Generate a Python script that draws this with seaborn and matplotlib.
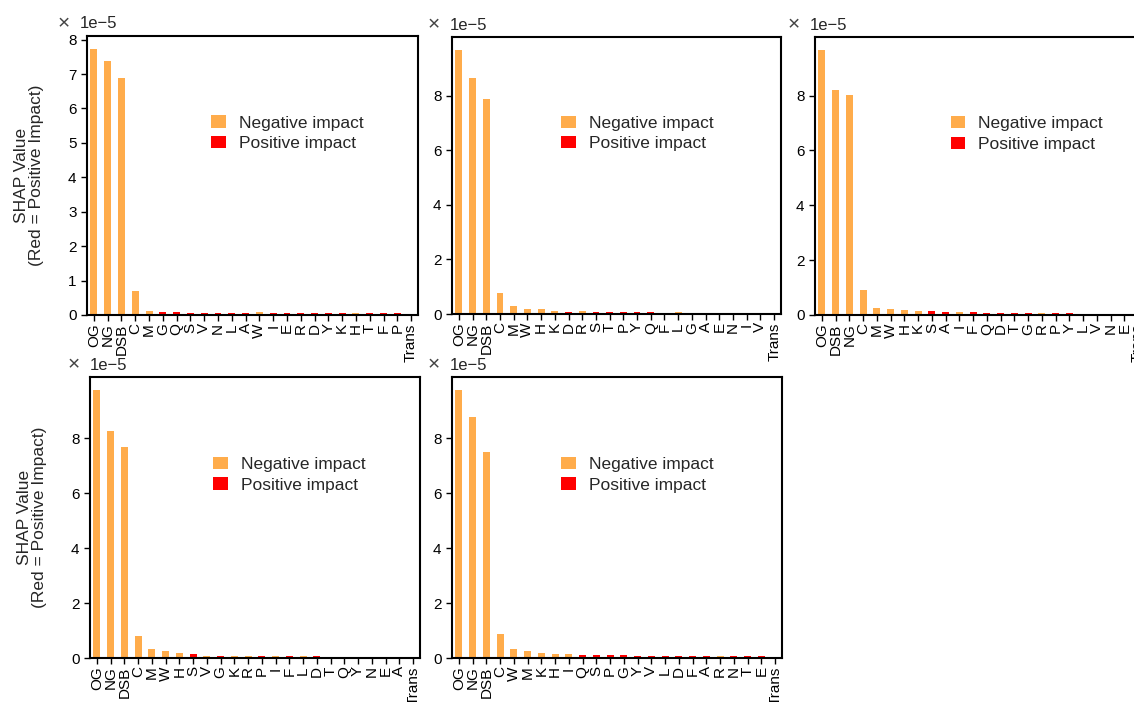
import matplotlib
matplotlib.use("Agg")
import matplotlib.pyplot as plt
import matplotlib.transforms as mtransforms
import seaborn as sns
import pandas as pd

# ---------------- data ----------------
features1 = ["OG", "NG", "DSB", "C", "M", "G", "Q", "S", "V", "N", "L", "A", "W", "I",
             "E", "R", "D", "Y", "K", "H", "T", "F", "P", "Trans"]
values1 = [7.72e-5, 7.39e-5, 6.90e-5, 0.69e-5, 0.125e-5, 0.10e-5, 0.10e-5, 0.07e-5, 0.07e-5,
           0.07e-5, 0.07e-5, 0.07e-5, 0.08e-5, 0.045e-5, 0.045e-5, 0.045e-5, 0.045e-5,
           0.045e-5, 0.045e-5, 0.06e-5, 0.045e-5, 0.045e-5, 0.045e-5, 0.005e-5]
signs1 = ["N", "N", "N", "N", "N", "P", "P", "P", "P", "P", "P", "P", "N", "P",
          "P", "P", "P", "P", "P", "N", "P", "P", "P", "N"]

features2 = ["OG", "NG", "DSB", "C", "M", "W", "H", "K", "D", "R", "S", "T", "P", "Y",
             "Q", "F", "L", "G", "A", "E", "N", "I", "V", "Trans"]
values2 = [9.66e-5, 8.64e-5, 7.86e-5, 0.77e-5, 0.28e-5, 0.20e-5, 0.18e-5, 0.11e-5, 0.06e-5,
           0.10e-5, 0.06e-5, 0.07e-5, 0.07e-5, 0.07e-5, 0.07e-5, 0.04e-5, 0.06e-5, 0.04e-5,
           0.04e-5, 0.04e-5, 0.04e-5, 0.05e-5, 0.04e-5, 0.03e-5]
signs2 = ["N", "N", "N", "N", "N", "N", "N", "N", "P", "N", "P", "P", "P", "P",
          "P", "P", "N", "P", "P", "P", "P", "N", "N", "N"]

features3 = ["OG", "DSB", "NG", "C", "M", "W", "H", "K", "S", "A", "I", "F", "Q", "D",
             "T", "G", "R", "P", "Y", "L", "V", "N", "E", "Trans"]
values3 = [9.65e-5, 8.20e-5, 8.03e-5, 0.90e-5, 0.27e-5, 0.23e-5, 0.18e-5, 0.14e-5, 0.16e-5,
           0.11e-5, 0.11e-5, 0.12e-5, 0.08e-5, 0.08e-5, 0.08e-5, 0.08e-5, 0.07e-5, 0.08e-5,
           0.08e-5, 0.04e-5, 0.05e-5, 0.04e-5, 0.04e-5, 0.02e-5]
signs3 = ["N", "N", "N", "N", "N", "N", "N", "N", "P", "P", "N", "P", "P", "P",
          "P", "P", "N", "P", "P", "N", "P", "P", "P", "N"]

features4 = ["OG", "NG", "DSB", "C", "M", "W", "H", "S", "V", "G", "K", "R", "P", "I",
             "F", "L", "D", "T", "Q", "Y", "N", "E", "A", "Trans"]
values4 = [9.75e-5, 8.28e-5, 7.69e-5, 0.81e-5, 0.33e-5, 0.24e-5, 0.18e-5, 0.13e-5, 0.07e-5,
           0.08e-5, 0.07e-5, 0.07e-5, 0.08e-5, 0.07e-5, 0.08e-5, 0.07e-5, 0.08e-5, 0.05e-5,
           0.05e-5, 0.05e-5, 0.05e-5, 0.05e-5, 0.05e-5, 0.01e-5]
signs4 = ["N", "N", "N", "N", "N", "N", "N", "P", "N", "P", "N", "N", "P", "N",
          "P", "N", "P", "P", "P", "N", "P", "P", "P", "N"]

features5 = ["OG", "NG", "DSB", "C", "W", "M", "K", "H", "I", "Q", "S", "P", "G", "Y",
             "V", "L", "D", "F", "A", "R", "N", "T", "E", "Trans"]
values5 = [9.75e-5, 8.79e-5, 7.52e-5, 0.87e-5, 0.33e-5, 0.26e-5, 0.18e-5, 0.16e-5, 0.16e-5,
           0.12e-5, 0.12e-5, 0.12e-5, 0.12e-5, 0.07e-5, 0.07e-5, 0.07e-5, 0.07e-5, 0.07e-5,
           0.07e-5, 0.08e-5, 0.07e-5, 0.07e-5, 0.07e-5, 0.03e-5]
signs5 = ["N", "N", "N", "N", "N", "N", "N", "N", "N", "P", "P", "P", "P", "P",
          "P", "P", "P", "P", "P", "N", "P", "P", "P", "P"]

# y tick values per panel
yticks1 = [0, 1e-5, 2e-5, 3e-5, 4e-5, 5e-5, 6e-5, 7e-5, 8e-5]
yticks_even = [0, 2e-5, 4e-5, 6e-5, 8e-5]

sign_names = {"N": "Negative impact", "P": "Positive impact"}
legend_order = ["Negative impact", "Positive impact"]
ylabel_text = "SHAP Value\n(Red = Positive Impact)"

panels = [
    (features1, values1, signs1, yticks1),
    (features2, values2, signs2, yticks_even),
    (features3, values3, signs3, yticks_even),
    (features4, values4, signs4, yticks_even),
    (features5, values5, signs5, yticks_even),
]

# ---------------- style ----------------
sns.set_theme(style="ticks")
plt.rcParams["font.family"] = ["Liberation Sans", "DejaVu Sans"]
plt.rcParams["axes.unicode_minus"] = True

colors = {"Negative impact": "#FFAC4B", "Positive impact": "#FF0000"}

W, H = 1134, 702
fig = plt.figure(figsize=(W / 100, H / 100), dpi=100)

# axes boxes in pixels: left, top, width, height
boxes = [(87, 36, 331, 279), (452, 37, 329, 277), (815, 37, 330, 278),
         (90, 377, 330, 281), (452, 377, 330, 281)]
legend_x = [0.354, 0.31, 0.39, 0.352, 0.31]
sci_dx = [-7, -2, -5, 0, -2]
ylabel_on = [True, False, False, True, False]

for i, ((feats, vals, sg, yt), (l, t, w, h)) in enumerate(zip(panels, boxes)):
    ax = fig.add_axes([l / W, (H - t - h) / H, w / W, h / H])
    df = pd.DataFrame({"feature": feats, "value": vals,
                       "impact": [sign_names[s] for s in sg]})
    sns.barplot(data=df, x="feature", y="value", hue="impact", order=feats,
                hue_order=legend_order, palette=colors, dodge=False, width=0.5,
                saturation=1, linewidth=0, ax=ax)
    ax.set_ylim(0, max(vals) * 1.05)
    ax.set_yticks(yt)
    ax.ticklabel_format(axis="y", style="sci", scilimits=(-5, -5))
    ax.set_xlabel("")
    ax.set_ylabel("")
    for sp in ax.spines.values():
        sp.set_visible(True)
        sp.set_linewidth(1.5)
        sp.set_color("black")
    ax.tick_params(axis="both", labelsize=11, length=4, width=1, colors="black")
    ax.tick_params(axis="x", labelrotation=90, pad=2)
    ax.yaxis.get_offset_text().set_visible(False)

    tr1 = mtransforms.offset_copy(ax.transAxes, fig=fig, x=sci_dx[i] - 22, y=12,
                                  units="dots")
    ax.text(0, 1, "×", transform=tr1, ha="left", va="center", fontsize=15,
            color="#444444", fontweight="light")
    tr2 = mtransforms.offset_copy(ax.transAxes, fig=fig, x=sci_dx[i], y=12, units="dots")
    ax.text(0, 1, "1e\u22125", transform=tr2, ha="left", va="center", fontsize=12)

    handles, labels = ax.get_legend_handles_labels()
    ax.legend(handles, labels, loc="upper left", bbox_to_anchor=(legend_x[i], 0.74),
              frameon=False, fontsize=12.5, handlelength=0.85, handleheight=0.7,
              handletextpad=0.75, labelspacing=0.3, borderaxespad=0)

    if ylabel_on[i]:
        ax.set_ylabel(ylabel_text, fontsize=12.5, linespacing=1.0)
        ax.yaxis.set_label_coords(-0.13, 0.5)

fig.savefig("out.png", dpi=100)
